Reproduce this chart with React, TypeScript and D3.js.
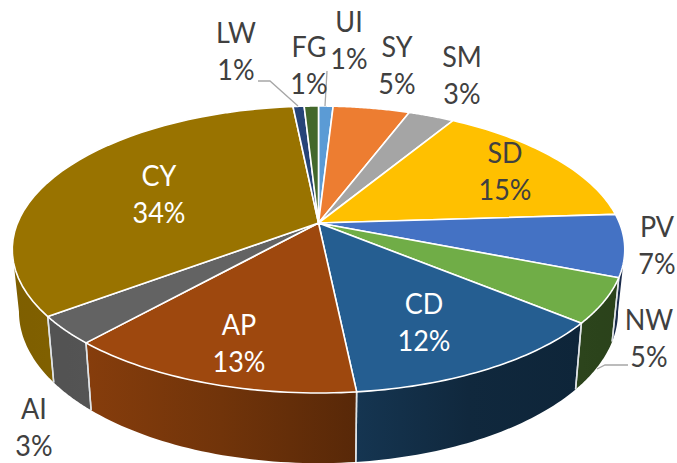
import React, { useMemo } from "react";
import * as d3 from "d3";

const categories = ["UI", "SY", "SM", "SD", "PV", "NW", "CD", "AP", "AI", "CY", "LW", "FG"];
const shares = [0.92, 4.83, 2.9, 15.35, 7, 5, 12.35, 13.25, 3.15, 33.65, 0.7, 0.9];
const colors = ["#5b9bd5", "#ed7d31", "#a5a5a5", "#ffc000", "#4472c4", "#70ad47", "#255e91", "#9e480e", "#636363", "#997300", "#264478", "#43682b"];

const labelCenters: Record<string, [number, number, string]> = {
  UI: [349, 22, "#404040"],
  SY: [397, 47, "#404040"],
  SM: [462, 57, "#404040"],
  SD: [505, 153, "#404040"],
  PV: [657, 227, "#404040"],
  NW: [649, 320, "#404040"],
  CD: [424, 304, "#ffffff"],
  AP: [239, 325, "#ffffff"],
  AI: [34, 409, "#404040"],
  CY: [159, 176, "#ffffff"],
  LW: [236, 33, "#404040"],
  FG: [309, 47, "#404040"],
};
const leaders: [number, number][][] = [
  [[258, 81], [270, 81], [298, 106]],
  [[327, 71], [325, 106]],
  [[628, 365], [605, 365], [597, 369]],
];

// Perspective projection of the unit disc onto the page
const cx = 318.5, cy = 223, A = 301, B = 97.4, K = 0.1847;
const top = (t: number): [number, number] => {
  const u = Math.sin(t), v = -Math.cos(t), w = 1 - K * v;
  return [cx + (A * u) / w, (cy + B * v) / w];
};
const bottom = (t: number): [number, number] => {
  const [x, y] = top(t);
  return [cx + (x - cx) * 0.978, y * 1.055 + 48.5];
};
const sideShade = d3.scaleLinear().domain([0, 90, 356, 360, 620]).range([0.82, 0.85, 0.58, 0.45, 0.38]).clamp(true);
const shade = (c: string, f: number) => {
  const r = d3.rgb(c);
  return d3.rgb(r.r * f, r.g * f, r.b * f).formatHex();
};
const lineGen = d3.line<[number, number]>();
const range = (a: number, b: number) => d3.range(0, 41).map((i) => a + ((b - a) * i) / 40);

const tangent = Math.acos(K);
const visA = Math.PI - tangent + 0; // right silhouette
const visB = Math.PI + tangent;

export default function App() {
  const arcs = useMemo(
    () => d3.pie<number>().sort(null).startAngle(0).endAngle(2 * Math.PI)(shares),
    []
  );
  const sides = arcs
    .map((a, i) => ({ i, a0: Math.max(a.startAngle, visA), a1: Math.min(a.endAngle, visB) }))
    .filter((s) => s.a1 > s.a0);
  return (
    <svg width={677} height={463} style={{ position: "absolute", left: 0, top: 0 }} fontFamily="Lato" fontSize={29}>
      <defs>
        {sides.map((s) => {
          const ts = range(s.a0, s.a1);
          const xs = ts.map((t) => top(t)[0]);
          const x0 = d3.min(xs)!, x1 = d3.max(xs)!;
          return (
            <linearGradient key={s.i} id={`side${s.i}`} gradientUnits="userSpaceOnUse" x1={x0} x2={x1} y1={0} y2={0}>
              {[0, 0.5, 1].map((o) => (
                <stop key={o} offset={o} stopColor={shade(colors[s.i], sideShade(x0 + (x1 - x0) * o))} />
              ))}
            </linearGradient>
          );
        })}
      </defs>
      {sides.map((s) => {
        const ts = range(s.a0, s.a1);
        const pts = [...ts.map(top), ...ts.slice().reverse().map(bottom)];
        return <path key={s.i} d={lineGen(pts)! + "Z"} fill={`url(#side${s.i})`} stroke="none" />;
      })}
      {sides.map((s) => {
        const edges = [s.a0, s.a1].filter((t) => t > visA + 1e-6 && t < visB - 1e-6);
        return edges.map((t) => (
          <path key={`${s.i}-${t}`} d={lineGen([top(t), bottom(t)])!} stroke="#dfe3e6" strokeWidth={1.5} fill="none" />
        ));
      })}
      {arcs.map((a, i) => {
        const pts: [number, number][] = [[cx, cy], ...range(a.startAngle, a.endAngle).map(top)];
        return <path key={i} d={lineGen(pts)! + "Z"} fill={colors[i]} stroke="#ffffff" strokeWidth={1.6} strokeLinejoin="round" />;
      })}
      {leaders.map((l, i) => (
        <path key={i} d={lineGen(l)!} fill="none" stroke="#a6a6a6" strokeWidth={1.3} />
      ))}
      {categories.map((c, i) => {
        const [x, y, fill] = labelCenters[c];
        return (
          <g key={c} textAnchor="middle" fill={fill}>
            <text transform={`translate(${x},${y}) scale(0.93,1)`} dy="0.35em">{c}</text>
            <text transform={`translate(${x},${y + 36.5}) scale(0.93,1)`} dy="0.35em">{`${Math.round(shares[i])}%`}</text>
          </g>
        );
      })}
    </svg>
  );
}
